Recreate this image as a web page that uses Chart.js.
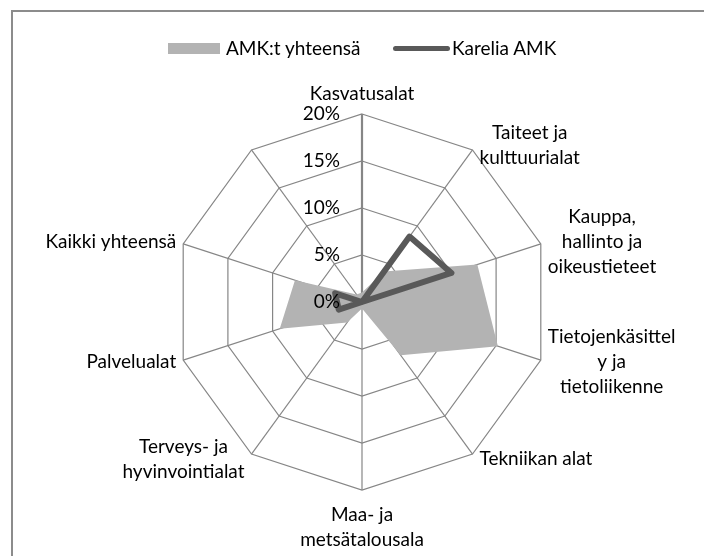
<!DOCTYPE html>
<html lang="fi">
<head>
<meta charset="utf-8">
<title>AMK:t yhteensä / Karelia AMK</title>
<script src="https://cdn.jsdelivr.net/npm/chart.js@4"></script>
<style>
    html, body { margin: 0; padding: 0; background: #fff; }
    body { width: 704px; height: 556px; position: relative; overflow: hidden; font-family: Lato, 'Liberation Sans', sans-serif; }
    #frame { position: absolute; left: 11px; top: 10px; width: 800px; height: 700px; border-left: 2px solid #8c8c8c; border-top: 2px solid #8c8c8c; }
    #chart { position: absolute; left: 0; top: 0; }
    .leg { position: absolute; font-size: 19px; color: #000; line-height: 20px; top: 38px; white-space: nowrap; }
    .swatch { position: absolute; }
</style>
</head>
<body>
<div id="frame"></div>
<canvas id="chart" width="704" height="556"></canvas>
<div class="swatch" style="left:168px; top:43px; width:52px; height:11px; background:#b3b3b3;"></div>
<div class="leg" style="left:226px;">AMK:t yhteensä</div>
<div class="swatch" style="left:393px; top:45.5px; width:57px; height:5px; border-radius:3px; background:#595959;"></div>
<div class="leg" style="left:452px;">Karelia AMK</div>
<script>
// Koulutusalat (rivitetty kuten alkuperäisessä kuvassa)
const categories = [
    ['Kasvatusalat'],
    ['Taiteet ja', 'kulttuurialat'],
    ['Kauppa,', 'hallinto ja', 'oikeustieteet'],
    ['Tietojenkäsittel', 'y ja', 'tietoliikenne'],
    ['Tekniikan alat'],
    ['Maa- ja', 'metsätalousala'],
    ['Terveys- ja', 'hyvinvointialat'],
    ['Palvelualat'],
    ['Kaikki yhteensä'],
    []
];

// Osuudet prosentteina (luettu kuvasta)
const amkTotal = [1, 4, 12.9, 15.2, 7, 0.7, 2.7, 9.2, 7.5, 1];
const karelia = [0, 8.6, 10, 0, 0, 0, 0, 2.6, 3, 0];

const tickValues = [0, 5, 10, 15, 20];

const FONT = '19px Lato, "Liberation Sans", sans-serif';
const LINE_H = 25;

// Excel-tyyliset akseli- ja kategoriatekstit
const excelLabels = {
    id: 'excelLabels',
    afterDraw(chart) {
        const scale = chart.scales.r;
        const ctx = chart.ctx;
        ctx.save();
        ctx.font = FONT;
        ctx.fillStyle = '#000';
        ctx.textBaseline = 'middle';

        ctx.textAlign = 'right';
        tickValues.forEach(v => {
            const y = scale.yCenter - scale.getDistanceFromCenterForValue(v);
            ctx.fillText(v + '%', scale.xCenter - 22, y);
        });

        const n = chart.data.labels.length;
        ctx.textAlign = 'center';
        chart.data.labels.forEach((lab, i) => {
            const lines = [].concat(lab);
            if (!lines.length) return;
            const p = scale.getPointPosition(i, scale.drawingArea);
            const a = i * 2 * Math.PI / n;
            const s = Math.sin(a), c = Math.cos(a);
            const boxW = Math.max(...lines.map(l => ctx.measureText(l).width));
            const blockH = lines.length * LINE_H;
            let cx, cy;
            if (Math.abs(s) < 0.01) {
                cx = p.x;
                cy = c > 0 ? p.y - 7.5 - blockH / 2 : p.y + 12.5 + blockH / 2;
            } else {
                cx = s > 0 ? p.x + 7 + boxW / 2 : p.x - 7 - boxW / 2;
                cy = p.y - 6 * c;
            }
            lines.forEach((l, k) => ctx.fillText(l, cx, cy - blockH / 2 + LINE_H * (k + 0.5)));
        });
        ctx.restore();
    }
};

new Chart(document.getElementById('chart'), {
    type: 'radar',
    data: {
        labels: categories,
        datasets: [{
            label: 'AMK:t yhteensä',
            data: amkTotal,
            fill: true,
            backgroundColor: '#b3b3b3',
            borderWidth: 0,
            pointRadius: 0,
            order: 2
        }, {
            label: 'Karelia AMK',
            data: karelia,
            fill: false,
            borderColor: '#595959',
            borderWidth: 6,
            borderJoinStyle: 'round',
            borderCapStyle: 'round',
            pointRadius: 0,
            order: 1
        }]
    },
    options: {
        responsive: false,
        animation: false,
        layout: { padding: { left: 174, top: 114, right: 154, bottom: 66 } },
        plugins: {
            legend: { display: false },
            tooltip: { enabled: false }
        },
        scales: {
            r: {
                min: 0,
                max: 20,
                startAngle: 0,
                ticks: { display: false, stepSize: 5 },
                grid: { color: '#868686', lineWidth: 1.2 },
                angleLines: {
                    color: '#868686',
                    lineWidth: ctx => ctx.index === 0 ? 2.2 : 1.2
                },
                pointLabels: { display: false }
            }
        }
    },
    plugins: [excelLabels]
});
</script>
</body>
</html>
